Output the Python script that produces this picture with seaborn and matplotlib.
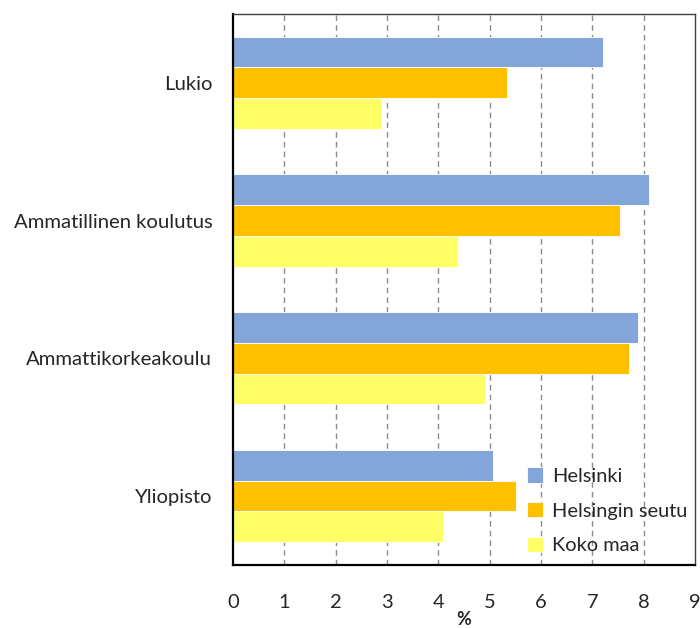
import matplotlib
matplotlib.use("Agg")
import matplotlib.pyplot as plt
import seaborn as sns
import pandas as pd
import numpy as np

categories = ["Lukio", "Ammatillinen koulutus", "Ammattikorkeakoulu", "Yliopisto"]
series = ["Helsinki", "Helsingin seutu", "Koko maa"]
helsinki = [7.20, 8.10, 7.89, 5.06]
helsingin_seutu = [5.34, 7.54, 7.72, 5.52]
koko_maa = [2.88, 4.38, 4.91, 4.09]
colors = ["#84A5DA", "#FFC000", "#FFFF66"]
x_ticks = list(range(0, 10))

rows = []
for name, vals in zip(series, [helsinki, helsingin_seutu, koko_maa]):
    for c, v in zip(categories, vals):
        rows.append({"cat": c, "series": name, "value": v})
df = pd.DataFrame(rows)

sns.set_style("white")
plt.rcParams["font.family"] = ["Lato", "DejaVu Sans"]

fig = plt.figure(figsize=(7.0, 6.28), dpi=100)
ax = fig.add_axes([0.333, 0.1003, 0.66, 0.8777])

sns.barplot(data=df, y="cat", x="value", hue="series", order=categories,
            hue_order=series, palette=colors, orient="h", width=0.67,
            saturation=1, ax=ax, edgecolor="white", linewidth=0.6)

ax.set_xlim(0, 9)
ax.set_ylim(3.5, -0.5)
ax.set_xticks(x_ticks)
ax.set_xticklabels([str(t) for t in x_ticks], fontsize=14.5)
ax.tick_params(axis="x", direction="out", length=6, width=1, color="black", pad=15)
ax.tick_params(axis="y", which="major", length=0, pad=15, labelsize=14.6)
ax.set_yticks([-0.5, 0.5, 1.5, 2.5, 3.5], minor=True)
ax.tick_params(axis="y", which="minor", direction="out", length=6, width=1, color="black")
ax.set_ylabel("")
ax.set_xlabel("%", fontsize=13, fontweight="bold", labelpad=0)

ax.grid(False)
for t in range(1, 9):
    ax.axvline(t, color="#8c8c8c", linestyle=(0, (4, 3)), linewidth=1, zorder=0)
ax.set_axisbelow(True)

for s in ["left", "bottom"]:
    ax.spines[s].set_color("black")
    ax.spines[s].set_linewidth(1.6)
for s in ["top", "right"]:
    ax.spines[s].set_color("#404040")
    ax.spines[s].set_linewidth(1.0)

handles, labels = ax.get_legend_handles_labels()
leg = ax.legend(handles, labels, loc="lower right", bbox_to_anchor=(1.022, -0.013),
                frameon=False, fontsize=14.4, handlelength=0.8, handleheight=0.8,
                handletextpad=0.45, labelspacing=0.85, borderaxespad=0.5)

fig.savefig("out.png", dpi=100)
